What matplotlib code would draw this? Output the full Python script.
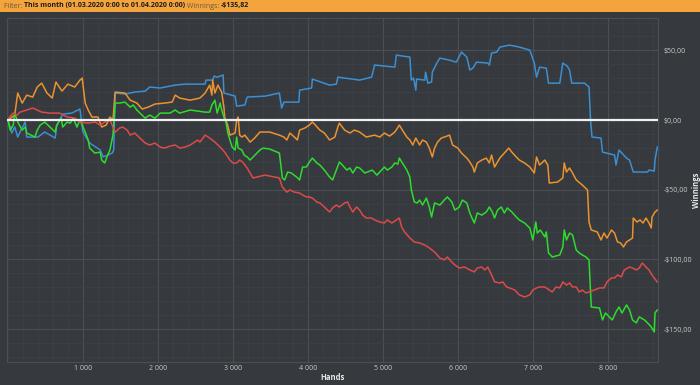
import matplotlib
matplotlib.use("Agg")
import matplotlib.pyplot as plt
from matplotlib.patches import Rectangle
from matplotlib.ticker import MultipleLocator, FixedLocator

# ---- data (hands, winnings in $) ----
blue_hands = [0, 50, 90, 130, 160, 230, 250, 400, 490, 630, 650, 730, 850, 960, 1000, 1090, 1230, 1270,
              1390, 1410, 1430, 1560, 1690, 1830, 1890, 2030, 2230, 2360, 2630, 2640, 2730, 2750, 2790,
              2870, 2880, 3030, 3050, 3160, 3190, 3430, 3620, 3650, 3680, 3880, 3890, 4050, 4060, 4290,
              4380, 4400, 4690, 4850, 4890, 5160, 5180, 5360, 5380, 5410, 5440, 5450, 5560, 5570, 5600,
              5650, 5660, 5720, 5760, 5890, 5980, 6050, 6120, 6160, 6200, 6250, 6400, 6420, 6450, 6520,
              6560, 6690, 6820, 6960, 7020, 7050, 7090, 7180, 7210, 7360, 7400, 7460, 7490, 7520, 7690,
              7750, 7770, 7790, 7910, 7930, 8090, 8110, 8150, 8250, 8290, 8340, 8530, 8550, 8620, 8630, 8660]
blue_win = [0, -9.3, -5.0, -12.2, -8.6, -1.4, -12.2, -12.2, -8.6, -12.9, -4.3, 4.3, 5.0, 7.9, -8.6, -16.5,
            -21.5, -26.5, -23.7, -21.5, 19.4, 18.7, 20.1, 20.8, 23.7, 23.0, 25.1, 25.8, 25.8, 28.7, 28.7,
            31.6, 30.8, 32.3, 19.4, 17.2, 10.0, 10.8, 16.5, 17.2, 19.4, 8.6, 12.9, 12.9, 21.5, 23.0, 29.4,
            25.1, 25.8, 30.8, 28.7, 30.8, 39.5, 38.0, 46.6, 45.2, 28.7, 30.1, 21.5, 29.4, 28.7, 34.4, 26.5,
            27.3, 34.4, 40.9, 44.5, 43.0, 41.6, 48.8, 45.2, 35.9, 37.3, 41.6, 40.9, 39.5, 48.1, 48.8, 52.4,
            53.8, 52.4, 50.2, 40.9, 30.8, 38.0, 37.3, 26.5, 26.5, 40.9, 38.7, 35.9, 26.5, 26.5, 23.7, 0,
            -12.2, -12.9, -23.0, -25.1, -32.3, -21.5, -27.3, -28.7, -37.3, -37.3, -35.9, -36.6, -28.7, -19.4]

orange_hands = [0, 90, 130, 190, 250, 330, 390, 450, 520, 590, 640, 720, 800, 890, 960, 990, 1030, 1070,
                1120, 1200, 1250, 1310, 1360, 1400, 1430, 1560, 1630, 1720, 1790, 1870, 1960, 2090, 2190,
                2230, 2290, 2430, 2560, 2630, 2690, 2720, 2730, 2760, 2800, 2850, 2880, 2890, 2930, 2960,
                3030, 3050, 3070, 3090, 3120, 3160, 3230, 3290, 3360, 3490, 3620, 3680, 3720, 3760, 3820,
                3860, 3890, 3960, 4020, 4060, 4100, 4160, 4220, 4290, 4360, 4400, 4420, 4490, 4560, 4620,
                4690, 4780, 4890, 4960, 5020, 5090, 5160, 5220, 5260, 5320, 5360, 5400, 5440, 5490, 5530,
                5580, 5620, 5660, 5690, 5730, 5780, 5820, 5890, 5930, 6000, 6050, 6120, 6160, 6200, 6220,
                6260, 6320, 6380, 6420, 6450, 6490, 6560, 6620, 6680, 6720, 6780, 6820, 6890, 6960, 7020,
                7050, 7090, 7160, 7200, 7220, 7330, 7400, 7420, 7450, 7490, 7530, 7580, 7660, 7730, 7750,
                7780, 7860, 7910, 7950, 7990, 8050, 8090, 8130, 8170, 8210, 8250, 8330, 8340, 8390, 8430,
                8470, 8510, 8550, 8580, 8590, 8630, 8660]
orange_win = [0, 3.6, 19.4, 12.2, 17.9, 16.5, 23.7, 26.5, 19.4, 15.8, 27.3, 20.8, 25.8, 23.7, 28.7, 30.1,
              12.2, 7.2, 2.2, 2.2, -5.0, -3.6, 2.2, 0, 20.1, 19.4, 14.3, 12.2, 7.9, 9.3, 11.5, 12.2, 12.9,
              17.9, 15.8, 14.3, 15.8, 19.4, 25.1, 17.9, 28.7, 19.4, 25.1, 20.1, 9.3, 2.2, -3.6, -10.8, -9.3,
              0, 2.2, -10.8, -12.2, -10.8, -15.8, -12.9, -8.6, -8.6, -10.8, -12.2, -14.3, -9.3, -12.2, -14.3,
              -7.2, -5.7, -3.6, -1.4, -3.6, -7.2, -9.3, -14.3, -12.2, -5.0, -2.2, -7.2, -9.3, -7.2, -8.6,
              -12.2, -10.8, -12.2, -9.3, -11.5, -8.6, -3.6, -7.2, -12.2, -14.3, -17.9, -12.9, -17.9, -14.3,
              -15.8, -20.1, -26.5, -20.1, -15.8, -12.9, -12.2, -10.8, -17.9, -20.1, -23.7, -27.3, -30.1,
              -33.7, -37.3, -30.8, -28.7, -27.3, -30.8, -25.1, -33.7, -27.3, -23.7, -20.1, -23.0, -26.5,
              -28.7, -30.8, -33.7, -38.0, -26.5, -32.3, -28.7, -32.3, -45.2, -44.5, -41.6, -30.8, -37.3,
              -34.4, -38.0, -43.0, -46.6, -50.2, -73.2, -78.9, -80.3, -86.1, -81.1, -84.7, -78.9, -81.1,
              -87.5, -88.2, -91.1, -87.5, -84.7, -70.3, -73.2, -71.7, -73.9, -70.3, -73.9, -77.5, -69.6,
              -66.0, -64.6]

green_hands = [0, 30, 70, 90, 130, 190, 230, 250, 360, 390, 430, 490, 560, 630, 650, 710, 730, 790, 830,
               870, 920, 960, 1000, 1030, 1070, 1090, 1160, 1230, 1250, 1290, 1330, 1360, 1400, 1430, 1490,
               1560, 1630, 1670, 1720, 1760, 1830, 1890, 1960, 2030, 2160, 2230, 2290, 2430, 2630, 2690,
               2720, 2760, 2790, 2830, 2850, 2880, 2910, 2930, 2960, 2990, 3030, 3050, 3070, 3120, 3150,
               3190, 3230, 3270, 3360, 3400, 3490, 3620, 3660, 3690, 3730, 3780, 3850, 3890, 3930, 3980,
               4020, 4060, 4120, 4160, 4220, 4290, 4330, 4380, 4420, 4460, 4520, 4560, 4600, 4650, 4690,
               4760, 4860, 4920, 4960, 5020, 5060, 5120, 5160, 5200, 5220, 5260, 5320, 5360, 5380, 5420,
               5460, 5490, 5530, 5580, 5620, 5650, 5690, 5760, 5820, 5860, 5920, 5960, 6020, 6060, 6120,
               6160, 6200, 6220, 6260, 6320, 6380, 6420, 6460, 6490, 6530, 6580, 6620, 6660, 6720, 6780,
               6820, 6890, 6960, 7000, 7040, 7060, 7100, 7160, 7180, 7210, 7260, 7360, 7400, 7420, 7450,
               7490, 7530, 7580, 7620, 7660, 7710, 7750, 7780, 7890, 7930, 7970, 8020, 8060, 8110, 8150,
               8190, 8250, 8290, 8330, 8380, 8420, 8490, 8530, 8580, 8620, 8630, 8660]
green_win = [0, -7.2, -3.6, 5.0, -1.4, -7.2, -5.0, -9.3, -12.2, -7.2, -3.6, -1.4, -5.0, -8.6, -3.6, 1.4,
             -5.0, -1.4, -2.2, 1.4, -5.0, 0, -5.0, -8.6, -14.3, -20.1, -23.7, -23.0, -28.7, -30.8, -25.1,
             -21.5, -10.8, 12.2, 12.2, 12.9, 9.3, 10.8, 7.2, 5.0, 1.4, 3.6, 1.4, 5.0, 5.0, 7.2, 5.0, 7.2,
             5.7, 5.7, 10.8, 14.3, 5.0, 12.2, 7.2, 2.2, -2.2, -8.6, -14.3, -19.4, -21.5, -12.2, -20.1,
             -21.5, -25.1, -26.5, -28.7, -26.5, -21.5, -20.1, -20.8, -23.7, -41.6, -43.0, -37.3, -38.0,
             -40.9, -43.0, -33.7, -33.7, -30.1, -27.3, -30.8, -32.3, -35.9, -40.9, -43.0, -35.9, -30.1,
             -32.3, -35.9, -34.4, -38.0, -33.7, -34.4, -38.0, -35.9, -39.5, -37.3, -33.7, -35.9, -33.7,
             -30.8, -31.6, -27.3, -30.8, -35.9, -40.9, -50.2, -58.8, -59.5, -57.4, -61.0, -56.0, -62.4,
             -69.6, -59.5, -61.0, -57.4, -55.2, -58.8, -64.6, -62.4, -57.4, -59.5, -66.7, -71.7, -73.9,
             -66.7, -68.2, -66.0, -62.4, -66.0, -70.3, -64.6, -62.4, -66.7, -63.1, -66.0, -69.6, -71.7,
             -73.9, -77.5, -86.1, -73.2, -81.1, -78.9, -83.9, -80.3, -95.4, -98.3, -96.8, -91.1, -78.9,
             -86.1, -81.1, -82.5, -93.3, -95.4, -96.8, -98.3, -100.4, -134.2, -134.9, -143.5, -138.5,
             -141.3, -143.5, -137.7, -134.2, -138.5, -132.7, -136.3, -143.5, -145.6, -141.3, -143.5,
             -145.6, -148.5, -152.1, -138.5, -136.3]

red_hands = [0, 30, 70, 120, 160, 250, 330, 390, 450, 560, 690, 790, 890, 960, 1070, 1160, 1230, 1290,
             1360, 1400, 1430, 1490, 1530, 1590, 1630, 1690, 1760, 1830, 1890, 1960, 2030, 2090, 2160,
             2230, 2290, 2360, 2430, 2490, 2530, 2560, 2600, 2630, 2690, 2760, 2830, 2890, 2960, 3000,
             3050, 3090, 3130, 3190, 3230, 3270, 3320, 3430, 3490, 3560, 3620, 3660, 3720, 3760, 3820,
             3890, 3930, 3980, 4020, 4060, 4120, 4160, 4220, 4290, 4330, 4380, 4420, 4490, 4530, 4560,
             4600, 4650, 4690, 4730, 4780, 4850, 4890, 4960, 5020, 5060, 5120, 5180, 5220, 5250, 5290,
             5360, 5420, 5490, 5560, 5620, 5690, 5760, 5820, 5860, 5920, 5960, 6020, 6090, 6160, 6220,
             6260, 6320, 6360, 6400, 6450, 6490, 6560, 6600, 6650, 6690, 6760, 6820, 6890, 6960, 7000,
             7050, 7090, 7160, 7220, 7260, 7310, 7360, 7400, 7450, 7490, 7530, 7580, 7620, 7660, 7710,
             7750, 7820, 7890, 7950, 7990, 8050, 8090, 8130, 8180, 8220, 8290, 8330, 8380, 8420, 8460,
             8510, 8550, 8590, 8620, 8660]
red_win = [0, 2.9, 5.0, 3.6, 5.7, 7.2, 8.6, 7.2, 5.7, 5.0, 5.0, 2.2, 1.4, -1.4, -2.2, -1.4, -3.6, -1.4,
           0, -5.0, -8.6, -5.7, -5.0, -7.2, -10.8, -9.3, -12.9, -16.5, -17.9, -16.5, -19.4, -20.1, -18.7,
           -17.9, -20.1, -19.4, -17.9, -15.8, -14.3, -15.8, -12.9, -10.8, -12.9, -15.8, -19.4, -23.0,
           -28.7, -30.8, -30.8, -28.7, -30.1, -34.4, -38.0, -41.6, -40.9, -39.5, -40.2, -40.9, -41.6,
           -48.1, -51.7, -50.2, -51.7, -52.4, -53.8, -55.2, -55.2, -56.0, -58.8, -59.5, -62.4, -66.0,
           -63.1, -61.0, -62.4, -59.5, -58.8, -62.4, -66.0, -62.4, -64.6, -68.2, -70.3, -70.3, -71.7,
           -73.2, -73.9, -71.7, -73.9, -71.7, -70.3, -76.8, -80.3, -84.7, -87.5, -88.2, -89.7, -91.8,
           -94.7, -99.0, -100.4, -98.3, -101.9, -104.0, -106.2, -105.5, -107.6, -109.0, -106.2, -105.5,
           -107.6, -105.5, -111.2, -116.2, -116.9, -116.2, -119.8, -120.5, -122.0, -125.5, -127.0,
           -125.5, -122.0, -120.5, -119.8, -119.8, -122.0, -123.4, -119.8, -120.5, -116.2, -118.4,
           -116.9, -119.8, -119.8, -123.4, -122.0, -124.1, -123.4, -122.0, -120.5, -120.5, -116.2,
           -113.3, -113.3, -111.2, -112.6, -107.6, -105.5, -106.2, -107.6, -106.2, -102.6, -105.5,
           -107.6, -111.2, -113.3, -116.2]

x_ticks = [1000, 2000, 3000, 4000, 5000, 6000, 7000, 8000]
x_labels = ["1 000", "2 000", "3 000", "4 000", "5 000", "6 000", "7 000", "8 000"]
y_ticks = [50, 0, -50, -100, -150]
y_labels = ["$50,00", "$0,00", "-$50,00", "-$100,00", "-$150,00"]

bg = "#363a3e"
plt.rcParams["font.family"] = ["Open Sans", "DejaVu Sans"]

fig = plt.figure(figsize=(7, 3.85), dpi=100, facecolor=bg)
ax = fig.add_axes([0.01, 0.06, 0.93, 0.893])
ax.set_facecolor(bg)

# header bar
fig.patches.append(Rectangle((0, 1 - 12 / 385), 1, 12 / 385, transform=fig.transFigure,
                             facecolor="#f3a43c", edgecolor="none", zorder=0))
t1 = fig.text(0.005, 1 - 6 / 385, "Filter: ", fontsize=5, color="#6a5a40", va="center")
t2 = fig.text(0, 0, "This month (01.03.2020 0:00 to 01.04.2020 0:00)", fontsize=5,
              fontweight="bold", color="#1a1a1a", va="center")
t3 = fig.text(0, 0, " Winnings: ", fontsize=5, color="#6a5a40", va="center")
t4 = fig.text(0, 0, "-$135,82", fontsize=5, fontweight="bold", color="#1a1a1a", va="center")
fig.canvas.draw()
r = fig.canvas.get_renderer()
prev = t1
for t in (t2, t3, t4):
    bb = prev.get_window_extent(r)
    x = bb.x1 / fig.bbox.width
    t.set_position((x, 1 - 6 / 385))
    fig.canvas.draw()
    prev = t

ax.plot(blue_hands, blue_win, color="#3b8fd2", lw=1.1, zorder=3)
ax.plot(orange_hands, orange_win, color="#ec922e", lw=1.1, zorder=3)
ax.plot(green_hands, green_win, color="#2edb2e", lw=1.1, zorder=3)
ax.plot(red_hands, red_win, color="#dc4a4a", lw=1.1, zorder=3)
ax.axhline(0, color="#f0f0f0", lw=1.6, zorder=4)

ax.set_xlim(-13, 8670)
ax.set_ylim(-173.6, 73.2)

ax.xaxis.set_major_locator(FixedLocator(x_ticks))
ax.set_xticklabels(x_labels)
ax.xaxis.set_minor_locator(MultipleLocator(200))
ax.yaxis.set_major_locator(FixedLocator(y_ticks))
ax.set_yticklabels(y_labels)
ax.yaxis.set_minor_locator(MultipleLocator(10))
ax.yaxis.tick_right()
ax.yaxis.set_label_position("right")

ax.grid(which="major", color="#4b4f54", lw=0.8, zorder=1)
ax.grid(which="minor", color="#3d4146", lw=0.6, zorder=1)
ax.tick_params(which="both", length=0, colors="#c8c8c8", labelsize=5)
ax.tick_params(axis="x", pad=2)
ax.tick_params(axis="y", pad=4)
for s in ax.spines.values():
    s.set_color("#4b4f54")
    s.set_linewidth(0.8)

ax.set_xlabel("Hands", fontsize=5.5, fontweight="bold", color="#e8e8e8", labelpad=1)
ax.set_ylabel("Winnings", fontsize=5.5, fontweight="bold", color="#e8e8e8")
ax.yaxis.set_label_coords(1.052, 0.5)

fig.savefig("out.png", dpi=100, facecolor=bg)
